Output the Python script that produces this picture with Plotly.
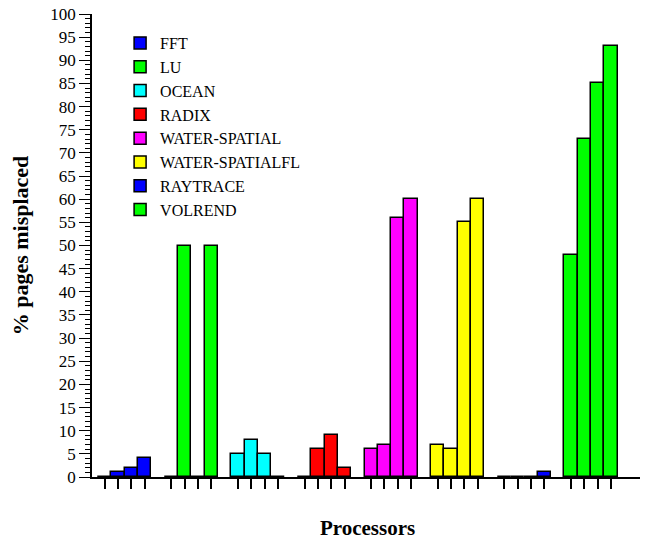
import plotly.graph_objects as go

benchmarks = ["FFT", "LU", "OCEAN", "RADIX", "WATER-SPATIAL",
              "WATER-SPATIALFL", "RAYTRACE", "VOLREND"]
fft = [0, 1, 2, 4]
lu = [0, 50, 0, 50]
ocean = [5, 8, 5, 0]
radix = [0, 6, 9, 2]
water_spatial = [6, 7, 56, 60]
water_spatialfl = [7, 6, 55, 60]
raytrace = [0, 0, 0, 1]
volrend = [48, 73, 85, 93]
series = [fft, lu, ocean, radix, water_spatial, water_spatialfl, raytrace, volrend]
colors = ["#0000FF", "#00FF00", "#00FFFF", "#FF0000", "#FF00FF",
          "#FFFF00", "#0000FF", "#00FF00"]

n_runs = 4          # bars per benchmark
group_stride = n_runs + 1  # one empty slot between benchmarks

font_family = "Liberation Serif, Times New Roman, serif"

fig = go.Figure()
all_x = []
for g, (name, vals, col) in enumerate(zip(benchmarks, series, colors)):
    xs = [g * group_stride + j for j in range(len(vals))]
    all_x += xs
    fig.add_trace(go.Bar(
        x=xs, y=vals, name=name, width=1.0,
        marker=dict(color=col, line=dict(color="black", width=1.5)),
    ))

fig.update_layout(
    width=648, height=539,
    margin=dict(l=84, r=13, t=6, b=70, autoexpand=False),
    paper_bgcolor="white", plot_bgcolor="white",
    font=dict(family=font_family, color="black"),
    showlegend=True,
    legend=dict(x=0.051, y=0.974, xanchor="left", yanchor="top",
                font=dict(size=16, family=font_family),
                bgcolor="rgba(0,0,0,0)", traceorder="normal"),
    bargap=0,
)
fig.update_xaxes(
    range=[-0.95, 40.4], showline=True, linecolor="black", linewidth=1.5,
    showgrid=False, zeroline=False, automargin=False,
    tickmode="array", tickvals=all_x, showticklabels=False,
    ticks="outside", ticklen=10, tickwidth=1.5, tickcolor="black",
    title=dict(text="<b>Processors</b>", font=dict(size=21, family=font_family),
               standoff=33),
)
fig.update_yaxes(
    range=[0, 100], showline=True, linecolor="black", linewidth=1.5,
    showgrid=False, zeroline=False, automargin=False,
    tickmode="linear", tick0=0, dtick=5,
    ticks="outside", ticklen=11, tickwidth=1.2, tickcolor="black",
    tickfont=dict(size=17, family=font_family),
    ticklabeloverflow="allow",
    minor=dict(ticks="outside", dtick=1, ticklen=5, tickwidth=1, tickcolor="black", showgrid=False),
    title=dict(text="<b>% pages misplaced</b>", font=dict(size=22, family=font_family),
               standoff=19),
)

fig.write_html("out.html")
